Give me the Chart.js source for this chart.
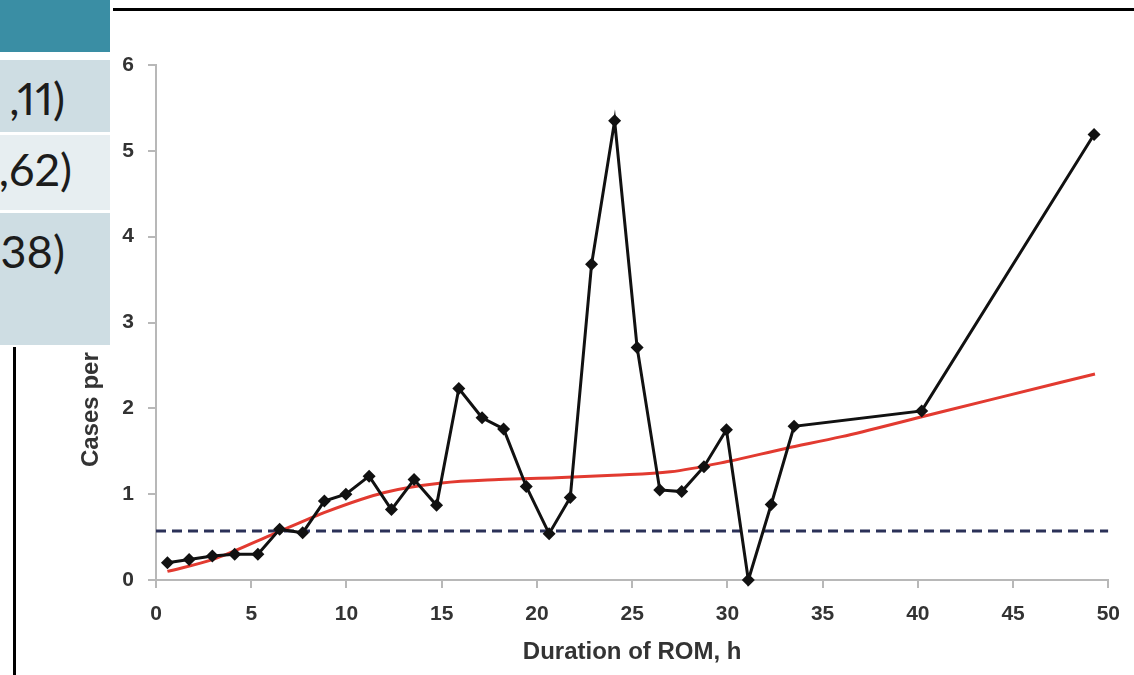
<!DOCTYPE html>
<html>
<head>
<meta charset="utf-8">
<script src="https://cdn.jsdelivr.net/npm/chart.js@4.4.1/dist/chart.umd.min.js"></script>
<style>
  html, body { margin: 0; padding: 0; background: #fff; }
  body { width: 1134px; height: 675px; position: relative; overflow: hidden; }
  #chart { position: absolute; left: 0; top: 0; }
  .blk { position: absolute; z-index: 2; }
  .cell { position: absolute; left: 0; width: 110px; z-index: 2; overflow: hidden; }
  .cell span {
    position: absolute; right: 45px; white-space: nowrap;
    font-family: Lato, "Open Sans", sans-serif; font-size: 45px; color: #1c1c1c;
    line-height: 1; font-variant-numeric: proportional-nums;
  }
</style>
</head>
<body>
<canvas id="chart" width="1134" height="675"></canvas>

<!-- slide pieces around the picture -->
<div class="blk" style="left:0;top:0;width:110px;height:52px;background:#3a8ea4"></div>
<div class="cell" style="top:60px;height:72px;background:#cedde3"><span style="top:16px">,11)</span></div>
<div class="cell" style="top:135px;height:75px;background:#e7eef1"><span style="top:12px;right:38px">,62)</span></div>
<div class="cell" style="top:213px;height:132px;background:#cedde3"><span style="top:16px">,38)</span></div>
<div class="blk" style="left:113px;top:8px;width:1021px;height:3px;background:#000"></div>
<div class="blk" style="left:13px;top:347px;width:3px;height:328px;background:#000"></div>

<script>
// observed cases per duration of ROM (h)
const romHours = [0.6, 1.74, 2.96, 4.13, 5.35, 6.49, 7.7, 8.84, 9.97, 11.19, 12.36, 13.55, 14.73, 15.9, 17.12,
  18.25, 19.44, 20.64, 21.75, 22.87, 24.08, 25.26, 26.45, 27.6, 28.77, 29.95, 31.1, 32.3, 33.5, 40.2, 49.25];
const casesPer = [0.2, 0.24, 0.28, 0.3, 0.3, 0.59, 0.55, 0.92, 1.0, 1.21, 0.82, 1.17, 0.87, 2.23, 1.89,
  1.76, 1.09, 0.54, 0.96, 3.68, 5.35, 2.71, 1.05, 1.03, 1.32, 1.75, 0.0, 0.88, 1.79, 1.97, 5.19];

// smoothed trend (red)
const trendHours = [0.6, 3, 6, 9, 12, 15, 18, 21, 24, 27, 30, 33, 36, 40, 44, 49.3];
const trendCases = [0.1, 0.24, 0.52, 0.8, 1.02, 1.13, 1.17, 1.19, 1.22, 1.26, 1.38, 1.53, 1.67, 1.89, 2.11, 2.4];

// baseline (dashed)
const baseHours = [0, 50];
const baseCases = [0.57, 0.57];

const xTicks = [0, 5, 10, 15, 20, 25, 30, 35, 40, 45, 50];
const yTicks = [0, 1, 2, 3, 4, 5, 6];
const xTitle = 'Duration of ROM, h';
const yTitle = 'Cases per';

const pts = (xs, ys) => xs.map((x, i) => ({ x, y: ys[i] }));
const FONT = '"Liberation Sans", Arial, sans-serif';
const AXIS = '#b8b8b8';

// y title sits low on the axis, the top part is under the table
const yTitlePlugin = {
  id: 'yTitle',
  afterDraw(chart) {
    const ctx = chart.ctx;
    ctx.save();
    ctx.translate(91, 467);
    ctx.rotate(-Math.PI / 2);
    ctx.font = 'bold 24px ' + FONT;
    ctx.fillStyle = '#333';
    ctx.textAlign = 'left';
    ctx.textBaseline = 'middle';
    ctx.fillText(yTitle, 0, 0);
    ctx.restore();
  }
};

new Chart(document.getElementById('chart').getContext('2d'), {
  type: 'line',
  data: {
    datasets: [
      { label: 'observed', data: pts(romHours, casesPer), borderColor: '#111', backgroundColor: '#111',
        borderWidth: 3, tension: 0, pointStyle: 'rectRot', pointRadius: 6.5, pointBorderWidth: 0,
        clip: false, order: 0 },
      { label: 'trend', data: pts(trendHours, trendCases), borderColor: '#e23a30', borderWidth: 3,
        pointRadius: 0, cubicInterpolationMode: 'monotone', order: 1 },
      { label: 'baseline', data: pts(baseHours, baseCases), borderColor: '#2b3158', borderWidth: 3,
        borderDash: [10, 6], pointRadius: 0, order: 2 }
    ]
  },
  options: {
    responsive: false,
    animation: false,
    devicePixelRatio: 1,
    layout: { padding: { left: 0, right: 18, top: 65, bottom: 0 } },
    plugins: { legend: { display: false }, tooltip: { enabled: false } },
    scales: {
      x: {
        type: 'linear', min: 0, max: 50,
        afterBuildTicks: s => { s.ticks = xTicks.map(v => ({ value: v })); },
        afterFit: s => { s.height = 95; },
        ticks: { padding: 14, color: '#333', font: { family: FONT, size: 21, weight: 'bold' } },
        grid: { drawOnChartArea: false, tickLength: 8, color: AXIS, lineWidth: 2 },
        border: { color: AXIS, width: 2 },
        title: { display: true, text: xTitle, color: '#333', padding: { top: 0, bottom: 8 },
          font: { family: FONT, size: 24, weight: 'bold' } }
      },
      y: {
        min: 0, max: 6,
        afterBuildTicks: s => { s.ticks = yTicks.map(v => ({ value: v })); },
        afterFit: s => { s.width = 156; },
        ticks: { padding: 14, color: '#333', font: { family: FONT, size: 21, weight: 'bold' } },
        grid: { drawOnChartArea: false, tickLength: 8, color: AXIS, lineWidth: 2 },
        border: { color: AXIS, width: 2 }
      }
    }
  },
  plugins: [yTitlePlugin]
});
</script>
</body>
</html>
